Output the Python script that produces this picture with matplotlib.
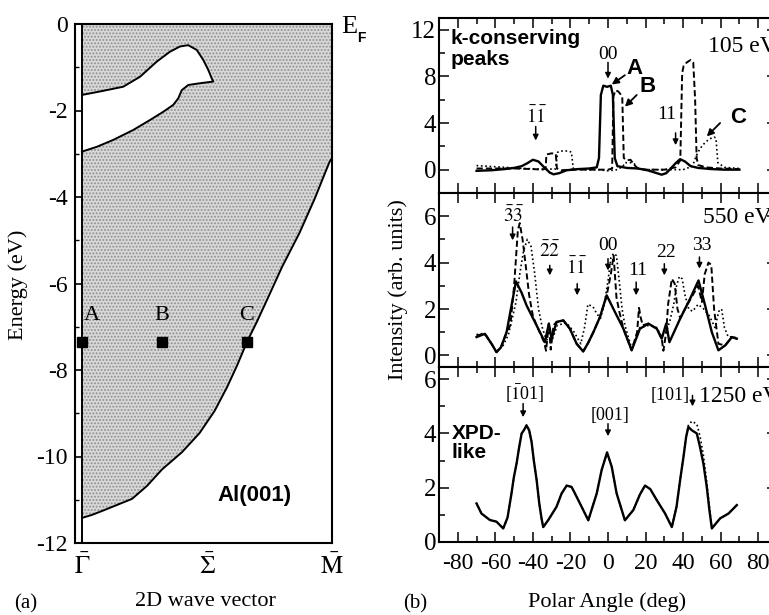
import matplotlib
matplotlib.use('Agg')
import matplotlib.pyplot as plt
from matplotlib.ticker import MultipleLocator

plt.rcParams['font.family'] = 'Liberation Serif'
plt.rcParams['mathtext.fontset'] = 'stix'
plt.rcParams['axes.unicode_minus'] = False
plt.rcParams['hatch.linewidth'] = 0.9

# (a) projected bulk band region of Al(001), Gamma -> M
edge_k = [0.0, 0.04, 0.08, 0.14, 0.2, 0.26, 0.32, 0.4, 0.47, 0.53, 0.58, 0.62, 0.66, 0.7,
          0.74, 0.8, 0.87, 0.93, 0.99, 1.0]
edge_E = [-11.42, -11.35, -11.26, -11.12, -10.98, -10.68, -10.3, -9.9, -9.46, -8.95, -8.4,
          -7.9, -7.35, -6.88, -6.38, -5.62, -4.83, -4.05, -3.19, -3.1]
pocket_k = [0.0, 0.072, 0.165, 0.232, 0.299, 0.352, 0.392, 0.425, 0.459, 0.485, 0.505,
            0.519, 0.525, 0.472, 0.425, 0.399, 0.385, 0.365, 0.325, 0.272, 0.205, 0.125,
            0.059, 0.0]
pocket_E = [-1.64, -1.56, -1.45, -1.22, -0.87, -0.64, -0.52, -0.49, -0.6, -0.83, -1.06,
            -1.26, -1.33, -1.37, -1.41, -1.53, -1.72, -1.87, -2.03, -2.22, -2.45, -2.68,
            -2.84, -2.95]
point_k = [0.0, 0.32, 0.66]
point_E = [-7.35, -7.35, -7.35]
point_names = ['A', 'B', 'C']
k_ticks = [0.0, 0.5, 1.0]
k_labels = [r'$\bar{\Gamma}$', r'$\bar{\Sigma}$', r'$\bar{\mathrm{M}}$']

# (b) polar scans, 105 eV
k_ang_a = [-70, -62, -55, -50, -46, -43, -40, -37, -34, -31, -29, -26, -22, -16, -10, -6,
           -4.8, -3.8, -2.5, -0.5, 1.5, 2.6, 3.6, 5, 10, 16, 21, 25, 28.6, 31, 34, 36,
           38.4, 41, 44, 48, 55, 62, 70]
k_int_a = [-0.1, -0.05, 0.05, 0.15, 0.3, 0.55, 0.85, 0.7, 0.2, -0.25, -0.4, -0.3, -0.05,
           0.05, 0.1, 0.2, 1.0, 6.4, 7.2, 7.1, 7.2, 6.4, 1.0, 0.3, 0.15, 0.1, -0.05, -0.25,
           -0.43, -0.3, 0.2, 0.55, 0.9, 0.7, 0.3, 0.15, 0.05, 0.0, 0.0]
k_ang_b = [-70, -60, -50, -40, -35, -33.2, -32.8, -30, -27.8, -27.2, -25, -20, -10, 0, 2.2,
           2.9, 4, 5.5, 7, 7.6, 8.4, 10, 12, 14, 16, 20, 30, 36, 38.5, 39.5, 40.3, 42, 44,
           45.4, 46.4, 47.2, 48, 52, 60, 70]
k_int_b = [0.1, 0.1, 0.1, 0.05, 0.0, 0.1, 1.3, 1.4, 1.35, 0.1, -0.05, 0.0, 0.0, 0.0, 0.1,
           6.3, 6.8, 6.7, 6.4, 6.2, 1.0, 0.8, 0.85, 0.4, 0.1, 0.0, 0.0, 0.2, 0.8, 8.3, 8.9,
           9.2, 9.4, 9.2, 6.0, 1.0, 0.4, 0.2, 0.1, 0.05]
k_ang_c = [-70, -65, -55, -45, -35, -28, -26.8, -25, -21, -19.5, -18.5, -12, -5, 0, 5, 8, 9,
           12, 14, 15.5, 20, 30, 40, 45, 47, 49, 51, 53, 55, 56.5, 57.5, 58.5, 62, 70]
k_int_c = [0.35, 0.3, 0.2, 0.1, 0.05, 0.05, 1.5, 1.6, 1.6, 1.5, 0.1, 0.0, 0.0, -0.1, 0.0,
           0.3, 0.6, 0.6, 0.5, 0.1, 0.0, 0.0, 0.0, 0.3, 1.2, 1.8, 2.2, 2.5, 2.7, 2.8, 2.7,
           0.6, 0.2, 0.1]

# 550 eV
m_ang_a = [-70, -65.6, -62, -59.4, -57, -54, -51.5, -49, -46, -43.4, -38, -33.6, -32.5,
           -31.5, -30, -27.4, -23.8, -20.3, -16.7, -13.2, -10.5, -7.8, -4.3, -0.7, 3.7, 8.2,
           12.6, 17, 21.5, 26, 28.6, 31, 32.7, 38.4, 43.7, 48.2, 51.7, 55.3, 58.8, 62.4, 66,
           68.6]
m_int_a = [0.79, 0.93, 0.5, 0.14, 0.35, 1.0, 2.1, 3.19, 2.7, 2.16, 1.29, 0.57, 1.0, 1.37,
           0.72, 1.44, 1.51, 1.15, 0.5, 0.17, 0.55, 1.0, 1.65, 2.59, 1.87, 1.15, 0.22, 1.15,
           1.37, 1.15, 0.72, 1.37, 0.57, 1.58, 2.44, 3.23, 2.16, 1.0, 0.22, 0.43, 0.79, 0.72]
m_ang_b = [-70, -65.6, -62, -59.4, -57, -54, -52, -50, -48, -47, -45.5, -44, -42, -40, -38,
           -34, -33, -31.5, -30.5, -29, -27.4, -23.8, -20.3, -16.7, -13.2, -10.5, -7.8, -4.3,
           -0.7, 1.5, 3, 4.5, 6, 8.2, 12.6, 15.5, 16.5, 17.5, 18.5, 21.5, 26, 28.6, 29.5, 31,
           32, 34, 35.5, 37, 38.5, 41, 44, 48, 50, 51.5, 53.5, 55, 56.5, 58.8, 62.4, 66, 68.6]
m_int_b = [0.85, 0.95, 0.5, 0.14, 0.35, 1.0, 1.3, 3.0, 5.4, 5.7, 5.0, 4.0, 2.6, 1.7, 1.29,
           0.57, 0.2, 1.37, 0.25, 1.3, 1.44, 1.51, 1.15, 0.5, 0.17, 0.55, 1.0, 1.65, 2.59,
           3.5, 4.3, 2.5, 1.9, 1.15, 0.22, 1.0, 2.05, 1.6, 1.3, 1.37, 1.15, 0.72, 0.2, 1.0,
           2.2, 3.3, 3.1, 2.0, 1.6, 2.0, 2.44, 3.0, 2.3, 3.5, 4.0, 3.9, 2.0, 0.5, 0.43, 0.79,
           0.72]
m_ang_c = [-70, -66, -62, -59.4, -56, -53, -51, -49, -47, -45, -43, -41, -39, -37, -35, -33,
           -30, -27, -22, -18, -14.5, -12.5, -10.7, -8, -6, -4, -2, 0, 1.5, 3, 4.5, 6, 7.5,
           9, 12.6, 17, 22, 26, 28.6, 31, 33, 35, 36.5, 38, 39.5, 41, 43, 45, 48, 51, 54, 57,
           59, 60.5, 62, 64, 66, 69]
m_int_c = [0.9, 0.95, 0.5, 0.14, 0.4, 0.9, 1.6, 2.3, 3.5, 4.5, 5.0, 4.7, 3.5, 2.0, 1.2, 0.7,
           0.6, 1.3, 1.4, 1.0, 0.5, 1.2, 2.2, 2.1, 1.8, 1.6, 2.2, 3.2, 4.2, 4.4, 4.3, 3.2,
           2.0, 1.3, 0.3, 1.2, 1.3, 1.2, 0.8, 1.0, 1.5, 2.2, 3.0, 3.4, 3.3, 2.6, 2.0, 1.9,
           2.2, 2.0, 1.7, 1.2, 1.9, 2.0, 1.2, 0.8, 0.8, 0.75]

# 1250 eV
x_ang = [-70, -67.4, -62.9, -59.4, -55.8, -53.5, -51.4, -50.1, -48.7, -47.3, -46, -44.8,
         -43.4, -42, -40.7, -39.5, -38, -36.6, -35.4, -34.5, -31.8, -27.4, -24.7, -22,
         -19.4, -17.6, -13.2, -10.5, -6, -3.4, -0.5, 2, 4.6, 9, 13.5, 17, 19.7, 22.5, 26,
         30.4, 34, 36.5, 38.4, 40.2, 41.6, 42.8, 44.6, 47.3, 49, 50.8, 52.6, 54, 55.3, 59.7,
         64.2, 68.6]
x_int_a = [1.42, 1.05, 0.81, 0.75, 0.5, 0.9, 1.79, 2.4, 2.89, 3.5, 4.0, 4.12, 4.3, 4.12,
           3.69, 3.0, 2.28, 1.42, 0.87, 0.55, 0.81, 1.3, 1.79, 2.08, 2.03, 1.79, 1.18, 0.8,
           1.79, 2.65, 3.3, 2.77, 1.79, 0.8, 1.18, 1.75, 2.08, 1.95, 1.54, 1.05, 0.55, 1.3,
           2.28, 3.14, 3.87, 4.24, 4.12, 4.0, 3.5, 2.89, 2.03, 1.18, 0.5, 0.87, 1.05, 1.36]
x_int_c = [1.42, 1.05, 0.81, 0.75, 0.5, 0.9, 1.79, 2.4, 2.89, 3.5, 4.0, 4.12, 4.3, 4.12,
           3.69, 3.0, 2.28, 1.42, 0.87, 0.55, 0.81, 1.3, 1.79, 2.08, 2.03, 1.79, 1.18, 0.8,
           1.79, 2.65, 3.3, 2.77, 1.79, 0.8, 1.18, 1.75, 2.08, 1.95, 1.54, 1.05, 0.55, 1.3,
           2.28, 3.14, 3.87, 4.3, 4.45, 4.35, 3.9, 3.2, 2.2, 1.3, 0.5, 0.87, 1.05, 1.36]

W, H = 769, 615
fig = plt.figure(figsize=(W / 100, H / 100), dpi=100)

sans = 'Liberation Sans'

# ---- panel (a) ----
ax = fig.add_axes([75 / W, 1 - 543 / H, 257 / W, 519 / H])
ax.fill_between(edge_k, edge_E, 0, facecolor='#d8d8d8', hatch='.....',
                edgecolor='#8e8e8e', linewidth=0)
ax.fill(pocket_k, pocket_E, facecolor='white', edgecolor='none', zorder=2)
ax.plot(pocket_k, pocket_E, color='k', lw=1.4, zorder=3)
ax.plot(edge_k, edge_E, color='k', lw=1.4, zorder=3)
ax.axvline(0, color='k', lw=1.4, zorder=3)
ax.plot(point_k, point_E, 's', color='k', ms=6.5, zorder=4, clip_on=False)
for k, e, name in zip(point_k, point_E, point_names):
    ax.text(k + (0.04 if name == 'A' else 0.0), e + 0.62, name, ha='center',
            va='center', fontsize=16)
ax.text(0.69, -10.9, 'Al(001)', ha='center', va='center', fontsize=16,
        family=sans, weight='bold')
ax.set_xlim(-0.028, 1.0)
ax.set_ylim(-12, 0)
ax.set_xticks(k_ticks)
ax.set_xticklabels(k_labels)
ax.yaxis.set_major_locator(MultipleLocator(2))
ax.yaxis.set_minor_locator(MultipleLocator(1))
ax.tick_params(axis='y', which='major', direction='in', length=6, width=1.2,
               labelsize=17, pad=5)
ax.tick_params(axis='y', which='minor', direction='in', length=3, width=1.0)
ax.tick_params(axis='x', length=0, labelsize=18, pad=8)
for s in ax.spines.values():
    s.set_linewidth(1.5)

fig.text(341 / W, 1 - 27 / H, 'E', fontsize=19, ha='left', va='center')
fig.text(357 / W, 1 - 38 / H, 'F', fontsize=10, ha='left', va='center',
         family=sans, weight='bold')
fig.text(18 / W, 1 - 285 / H, 'Energy (eV)', rotation=90, ha='center',
         va='center', fontsize=16)
fig.text(205 / W, 1 - 602 / H, '2D wave vector', ha='center', va='center', fontsize=16)
fig.text(26 / W, 1 - 604 / H, '(a)', ha='center', va='center', fontsize=15)

# ---- panel (b) ----
left, width = 439 / W, 338 / W
ax1 = fig.add_axes([left, 1 - 193 / H, width, 175 / H])
ax2 = fig.add_axes([left, 1 - 367 / H, width, 174 / H])
ax3 = fig.add_axes([left, 1 - 542 / H, width, 175 / H])

solid = dict(color='k', lw=1.7, solid_joinstyle='round')
dashed = dict(color='k', lw=1.4, dashes=(3.2, 1.6))
dotted = dict(color='k', lw=1.2, dashes=(1.0, 1.6))

ax1.plot(k_ang_c, k_int_c, **dotted)
ax1.plot(k_ang_b, k_int_b, **dashed)
ax1.plot(k_ang_a, k_int_a, **solid)
ax2.plot(m_ang_c, m_int_c, **dotted)
ax2.plot(m_ang_b, m_int_b, **dashed)
ax2.plot(m_ang_a, m_int_a, **solid)
ax3.plot(x_ang, x_int_c, **dotted)
ax3.plot(x_ang, x_int_a, **solid)

limits = [(-2, 13, 4, 2), (-0.5, 7, 2, 1), (0, 6.45, 2, 1)]
for a, (lo, hi, maj, mnr) in zip([ax1, ax2, ax3], limits):
    a.set_xlim(-90, 90)
    a.set_ylim(lo, hi)
    a.xaxis.set_major_locator(MultipleLocator(20))
    a.xaxis.set_minor_locator(MultipleLocator(10))
    a.yaxis.set_major_locator(MultipleLocator(maj))
    a.yaxis.set_minor_locator(MultipleLocator(mnr))
    a.tick_params(which='both', direction='in', top=True, right=True, width=1.1)
    a.tick_params(which='major', length=7)
    a.tick_params(which='minor', length=4)
    a.tick_params(axis='y', labelsize=18, pad=2)
    a.tick_params(axis='x', labelsize=17, pad=8)
    for s in a.spines.values():
        s.set_linewidth(1.5)
ax1.set_yticks([0, 4, 8, 12])
ax2.set_yticks([0, 2, 4, 6])
ax3.set_yticks([0, 2, 4, 6])
ax1.tick_params(axis='x', labelbottom=False)
ax2.tick_params(axis='x', labelbottom=False)
ax3.set_xticks(range(-80, 81, 20))


def marker(a, x, y0, y1):
    a.annotate('', xy=(x, y1), xytext=(x, y0),
               arrowprops=dict(arrowstyle='-|>', color='k', lw=1.1, mutation_scale=8,
                               shrinkA=0, shrinkB=0))


def pointer(a, xy0, xy1):
    a.annotate('', xy=xy1, xytext=xy0,
               arrowprops=dict(arrowstyle='-|>', color='k', lw=1.3, mutation_scale=10,
                               shrinkA=0, shrinkB=0))


# 105 eV labels
ax1.text(-84, 12.1, 'k-conserving\npeaks', ha='left', va='top', fontsize=15,
         family=sans, weight='bold', linespacing=1.15)
ax1.text(53.3, 10.6, '105 eV', ha='left', va='center', fontsize=17)
ax1.text(0, 9.9, '00', ha='center', va='center', fontsize=14)
marker(ax1, 0, 9.2, 7.8)
ax1.text(14.1, 8.65, 'A', ha='center', va='center', fontsize=16, family=sans, weight='bold')
pointer(ax1, (9, 8.1), (2, 7.3))
ax1.text(21.3, 7.1, 'B', ha='center', va='center', fontsize=16, family=sans, weight='bold')
pointer(ax1, (15.3, 6.4), (9, 5.4))
ax1.text(-38, 4.6, r'$\bar{1}\bar{1}$', ha='center', va='center', fontsize=14)
marker(ax1, -38.5, 3.7, 2.5)
ax1.text(31.3, 4.7, '11', ha='center', va='center', fontsize=14)
marker(ax1, 36, 3.15, 2.1)
ax1.text(69.3, 4.5, 'C', ha='center', va='center', fontsize=16, family=sans, weight='bold')
pointer(ax1, (59.7, 4.0), (52.6, 2.85))

# 550 eV labels
mid_labels = [(-50.5, 5.73, r'$\bar{3}\bar{3}$', -50.8, 5.53, 4.96),
              (-31, 4.24, r'$\bar{2}\bar{2}$', -31, 3.88, 3.45),
              (-16.7, 3.52, r'$\bar{1}\bar{1}$', -16.4, 3.09, 2.59),
              (0, 4.53, '00', 0, 4.17, 3.66),
              (15.7, 3.45, '11', 15, 3.16, 2.59),
              (31, 4.24, '22', 30, 3.95, 3.45),
              (50, 4.53, '33', 48.7, 4.24, 3.74)]
for tx, ty, lab, ax_, y0, y1 in mid_labels:
    ax2.text(tx, ty, lab, ha='center', va='baseline', fontsize=14)
    marker(ax2, ax_, y0, y1)
ax2.text(50.7, 5.69, '550 eV', ha='left', va='baseline', fontsize=17)

# 1250 eV labels
ax3.text(-44.3, 5.22, r'[$\bar{1}$01]', ha='center', va='baseline', fontsize=13)
marker(ax3, -45.2, 5.1, 4.6)
ax3.text(1, 4.49, '[001]', ha='center', va='baseline', fontsize=13)
marker(ax3, 0, 4.36, 3.9)
ax3.text(33, 5.22, '[101]', ha='center', va='baseline', fontsize=13)
marker(ax3, 45, 5.4, 5.0)
ax3.text(48.2, 5.16, '1250 eV', ha='left', va='baseline', fontsize=17)
ax3.text(-83.4, 4.35, 'XPD-\nlike', ha='left', va='top', fontsize=15,
         family=sans, weight='bold', linespacing=1.0)

fig.text(398 / W, 1 - 290 / H, 'Intensity (arb. units)', rotation=90, ha='center',
         va='center', fontsize=16)
fig.text(607 / W, 1 - 602 / H, 'Polar Angle (deg)', ha='center', va='center', fontsize=16)
fig.text(415 / W, 1 - 604 / H, '(b)', ha='center', va='center', fontsize=15)

fig.savefig('out.png', dpi=100)
